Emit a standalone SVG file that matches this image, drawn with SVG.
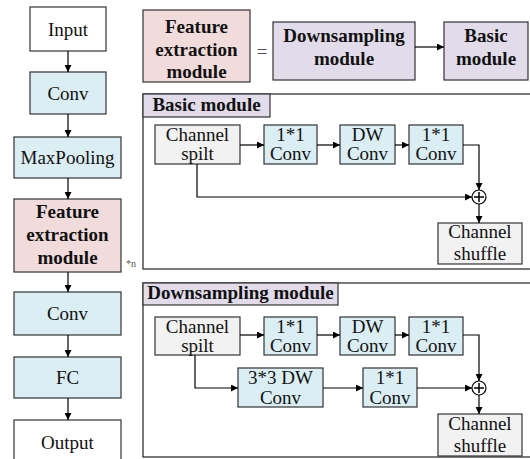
<svg xmlns="http://www.w3.org/2000/svg" width="530" height="459" viewBox="0 0 530 459" font-family="'Liberation Serif', 'DejaVu Serif', serif">
<defs>
<marker id="ah" viewBox="0 0 10 10" refX="10" refY="5" markerWidth="8" markerHeight="7" markerUnits="userSpaceOnUse" orient="auto">
<path d="M0,0 L10,5 L0,10 z" fill="#000"/>
</marker>
</defs>
<style>
text{font-family:'Liberation Serif','DejaVu Serif',serif;font-size:19px;fill:#111;text-anchor:middle}
.b{font-weight:bold}
.box{stroke:#333;stroke-width:1.2}
.w{fill:#fff}.blue{fill:#dbeef4}.pink{fill:#f2dcdb}.pur{fill:#e2dcea}.gray{fill:#f2f2f2}
.frame{fill:none;stroke:#222;stroke-width:1.2}
.ca{fill:none;stroke:#000;stroke-width:1.2;marker-end:url(#ah)}
</style>
<rect width="530" height="459" fill="#fff"/>

<!-- left column -->
<g id="input"><rect class="box w" x="30" y="7" width="76" height="44"/><text x="68" y="36">Input</text></g>
<g id="conv1"><rect class="box blue" x="30" y="72" width="76" height="42"/><text x="68" y="100">Conv</text></g>
<g id="maxpool"><rect class="box blue" x="14" y="137" width="107" height="41"/><text x="67.5" y="164">MaxPooling</text></g>
<g id="fem"><rect class="box pink" x="14" y="199" width="107" height="73"/><text class="b" x="67.5" y="218">Feature</text><text class="b" x="67.5" y="241">extraction</text><text class="b" x="67.5" y="264">module</text></g>
<text x="131" y="267" style="font-size:10px;fill:#555">*n</text>
<g id="conv2"><rect class="box blue" x="14" y="292" width="107" height="43"/><text x="67.5" y="320">Conv</text></g>
<g id="fc"><rect class="box blue" x="14" y="357" width="107" height="41"/><text x="67.5" y="384">FC</text></g>
<g id="output"><rect class="box w" x="14" y="420" width="107" height="60"/><text x="67.5" y="449">Output</text></g>

<!-- top definition -->
<g id="fem2"><rect class="box pink" x="143" y="10" width="107" height="72"/><text class="b" x="196.5" y="33">Feature</text><text class="b" x="196.5" y="56">extraction</text><text class="b" x="196.5" y="78">module</text></g>
<text x="262" y="58" style="fill:#555">=</text>
<g id="down-top"><rect class="box pur" x="273" y="22" width="142" height="58"/><text class="b" x="344" y="42">Downsampling</text><text class="b" x="344" y="65">module</text></g>
<g id="basic-top"><rect class="box pur" x="444" y="22" width="84" height="58"/><text class="b" x="486" y="42">Basic</text><text class="b" x="486" y="65">module</text></g>

<!-- basic module panel -->
<g id="basic-panel">
<rect class="frame" x="143" y="94" width="400" height="175"/>
<rect class="box pur" x="143" y="94" width="127" height="23"/>
<text class="b" x="206.5" y="111">Basic module</text>
</g>
<g id="b-split"><rect class="box gray" x="155" y="125" width="85" height="39"/><text x="197.5" y="141">Channel</text><text x="197.5" y="160">spilt</text></g>
<g id="b-c1"><rect class="box blue" x="264" y="125" width="53" height="39"/><text x="290.5" y="141">1*1</text><text x="290.5" y="160">Conv</text></g>
<g id="b-dw"><rect class="box blue" x="340" y="125" width="55" height="39"/><text x="367.5" y="141">DW</text><text x="367.5" y="160">Conv</text></g>
<g id="b-c2"><rect class="box blue" x="409" y="125" width="54" height="39"/><text x="436" y="141">1*1</text><text x="436" y="160">Conv</text></g>
<g id="b-add"><circle cx="479" cy="197" r="7" fill="#fff" stroke="#000" stroke-width="1.2"/><path d="M479,192v10M474,197h10" stroke="#000" stroke-width="1.5"/></g>
<g id="b-shuffle"><rect class="box gray" x="438" y="223" width="84" height="41"/><text x="480" y="238">Channel</text><text x="480" y="260">shuffle</text></g>

<!-- downsampling panel -->
<g id="down-panel">
<rect class="frame" x="143" y="283" width="400" height="174"/>
<rect class="box pur" x="143" y="283" width="195" height="22"/>
<text class="b" x="240.5" y="299">Downsampling module</text>
</g>
<g id="d-split"><rect class="box gray" x="155" y="317" width="85" height="38"/><text x="197.5" y="333">Channel</text><text x="197.5" y="352">spilt</text></g>
<g id="d-c1"><rect class="box blue" x="264" y="317" width="53" height="38"/><text x="290.5" y="333">1*1</text><text x="290.5" y="352">Conv</text></g>
<g id="d-dw"><rect class="box blue" x="340" y="317" width="55" height="38"/><text x="367.5" y="333">DW</text><text x="367.5" y="352">Conv</text></g>
<g id="d-c2"><rect class="box blue" x="409" y="317" width="54" height="38"/><text x="436" y="333">1*1</text><text x="436" y="352">Conv</text></g>
<g id="d-dw33"><rect class="box blue" x="238" y="368" width="85" height="39"/><text x="280.5" y="384">3*3 DW</text><text x="280.5" y="404">Conv</text></g>
<g id="d-c3"><rect class="box blue" x="363" y="368" width="54" height="39"/><text x="390" y="384">1*1</text><text x="390" y="404">Conv</text></g>
<g id="d-add"><circle cx="479" cy="388" r="7" fill="#fff" stroke="#000" stroke-width="1.2"/><path d="M479,383v10M474,388h10" stroke="#000" stroke-width="1.5"/></g>
<g id="d-shuffle"><rect class="box gray" x="438" y="414" width="84" height="42"/><text x="480" y="430">Channel</text><text x="480" y="452">shuffle</text></g>

<!-- connectors -->
<g id="connectors">
<path class="ca" d="M68,51V72"/>
<path class="ca" d="M68,114V137"/>
<path class="ca" d="M68,178V199"/>
<path class="ca" d="M68,272V292"/>
<path class="ca" d="M68,335V357"/>
<path class="ca" d="M68,398V420"/>
<path class="ca" d="M415,47H444"/>

<path class="ca" d="M240,145H264"/>
<path class="ca" d="M317,145H340"/>
<path class="ca" d="M395,145H409"/>
<path class="ca" d="M463,145H479V190"/>
<path class="ca" d="M197,164V197H472"/>
<path class="ca" d="M479,204V223"/>

<path class="ca" d="M240,335H264"/>
<path class="ca" d="M317,335H340"/>
<path class="ca" d="M395,335H409"/>
<path class="ca" d="M463,335H479V381"/>
<path class="ca" d="M195,355V388H238"/>
<path class="ca" d="M323,388H363"/>
<path class="ca" d="M417,388H472"/>
<path class="ca" d="M479,395V414"/>
</g>
</svg>
